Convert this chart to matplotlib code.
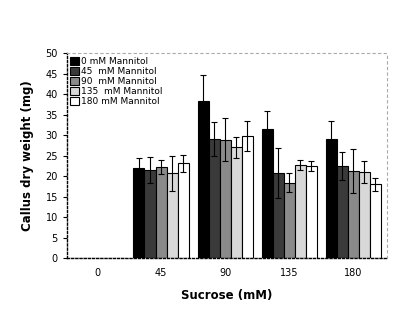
import matplotlib
matplotlib.use("Agg")
import matplotlib.pyplot as plt
import numpy as np

sucrose = ["0", "45", "90", "135", "180"]
series_labels = ["0 mM Mannitol", "45  mM Mannitol", "90  mM Mannitol",
                 "135  mM Mannitol", "180 mM Mannitol"]
m0 = [0, 21.9, 38.2, 31.4, 29.0]
m45 = [0, 21.5, 29.1, 20.8, 22.4]
m90 = [0, 22.2, 28.9, 18.4, 21.2]
m135 = [0, 20.7, 27.0, 22.8, 21.0]
m180 = [0, 23.1, 29.7, 22.4, 18.0]
e0 = [0, 2.6, 6.4, 4.6, 4.5]
e45 = [0, 3.1, 4.1, 6.1, 3.4]
e90 = [0, 1.8, 5.3, 2.3, 5.3]
e135 = [0, 4.3, 2.6, 1.2, 2.7]
e180 = [0, 2.1, 3.7, 1.2, 1.6]

values = [m0, m45, m90, m135, m180]
errors = [e0, e45, e90, e135, e180]
colors = ["#000000", "#3a3a3a", "#8a8a8a", "#d8d8d8", "#ffffff"]

fig = plt.figure(figsize=(4.18, 3.09), dpi=100)
ax = fig.add_axes([0.160, 0.165, 0.766, 0.663])

x = np.arange(len(sucrose))
w = 0.172
for i, (v, e, c, lab) in enumerate(zip(values, errors, colors, series_labels)):
    pos = x + (i - 2) * w
    vv = np.array(v, dtype=float)
    ee = np.array(e, dtype=float)
    ax.bar(pos, vv, width=w, color=c, edgecolor="black", linewidth=0.8, label=lab)
    mask = vv > 0
    ax.errorbar(pos[mask], vv[mask], yerr=ee[mask], fmt="none", ecolor="black",
                elinewidth=0.8, capsize=2, capthick=0.8)

ax.set_xlim(-0.47, 4.53)
ax.set_ylim(0, 50)
ax.set_yticks(np.arange(0, 51, 5))
ax.set_xticks(x)
ax.set_xticklabels(sucrose)
ax.tick_params(axis="both", labelsize=7, length=3, width=0.8, colors="black")
ax.tick_params(axis="x", length=0, pad=7)

for s in ["left", "bottom"]:
    ax.spines[s].set_linestyle((0, (1.5, 1.5)))
    ax.spines[s].set_linewidth(1.0)
for s in ["top", "right"]:
    ax.spines[s].set_linestyle((0, (2, 3)))
    ax.spines[s].set_color("#aaaaaa")
    ax.spines[s].set_linewidth(0.8)

ax.set_ylabel("Callus dry weight (mg)", fontsize=8.5, fontweight="bold", labelpad=8)
ax.set_xlabel("Sucrose (mM)", fontsize=8.5, fontweight="bold", labelpad=8)

ax.legend(loc="upper left", bbox_to_anchor=(0.0, 1.0), frameon=False, fontsize=6.5,
          handlelength=0.9, handleheight=1.0, handletextpad=0.3, labelspacing=0.1,
          borderaxespad=0.2, borderpad=0.2)

fig.savefig("out.png", dpi=100)
